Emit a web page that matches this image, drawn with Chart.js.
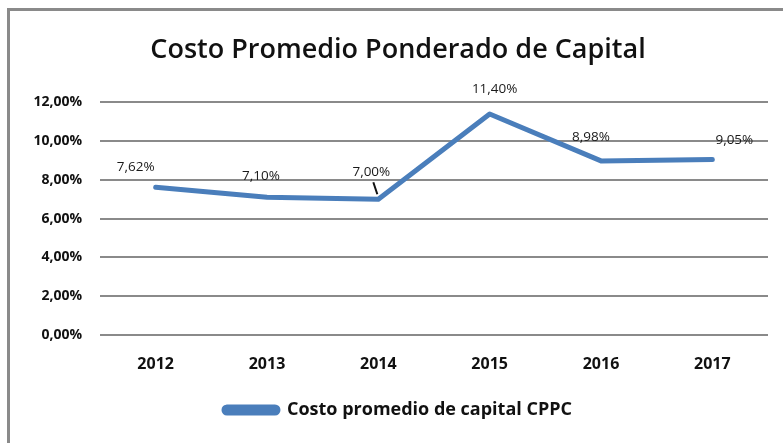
<!DOCTYPE html>
<html>
<head>
<meta charset="utf-8">
<script src="https://cdn.jsdelivr.net/npm/chart.js@4"></script>
<style>
  html, body { margin: 0; padding: 0; background: #fff; }
  #wrap { position: relative; width: 783px; height: 443px; overflow: hidden; }
  #frame { position: absolute; left: 7px; top: 8px; width: 800px; height: 460px;
           border-left: 3px solid #8a8a8a; border-top: 3px solid #8a8a8a; box-sizing: border-box; }
  canvas { position: absolute; left: 0; top: 0; }
</style>
</head>
<body>
<div id="wrap">
  <div id="frame"></div>
  <canvas id="chart" width="783" height="443"></canvas>
</div>
<script>
const YEARS = ["2012", "2013", "2014", "2015", "2016", "2017"];
const CPPC = [7.62, 7.10, 7.00, 11.40, 8.98, 9.05];
const SERIES_LABEL = "Costo promedio de capital CPPC";
const TITLE = "Costo Promedio Ponderado de Capital";

const FONT = "'Open Sans', 'Liberation Sans', sans-serif";
const BLUE = "#4a7ebb";
const GRID = "#8a8a8a";

function pct(v) {
  return Number(v).toFixed(2).replace(".", ",") + "%";
}

// where each label sits relative to its point (Excel placed them by hand)
const labelShift = [[-20, -20], [-6, -21], [-7, -27], [5, -25], [-10, -24], [22, -19]];

const dataLabels = {
  id: "dataLabels",
  afterDatasetsDraw(chart) {
    const ctx = chart.ctx;
    const meta = chart.getDatasetMeta(0);
    ctx.save();
    ctx.font = "13.5px " + FONT;
    ctx.fillStyle = "#1a1a1a";
    ctx.textAlign = "center";
    ctx.textBaseline = "middle";
    meta.data.forEach((pt, i) => {
      const s = labelShift[i] || [0, -20];
      ctx.fillText(pct(CPPC[i]), pt.x + s[0], pt.y + s[1]);
      if (i === 2) {
        // leader line from label down to the point
        ctx.strokeStyle = "#111";
        ctx.lineWidth = 2;
        ctx.beginPath();
        ctx.moveTo(pt.x - 5, pt.y - 17);
        ctx.lineTo(pt.x - 1, pt.y - 5);
        ctx.stroke();
      }
    });
    ctx.restore();
  }
};

new Chart(document.getElementById("chart"), {
  type: "line",
  data: {
    labels: YEARS,
    datasets: [{
      label: SERIES_LABEL,
      data: CPPC,
      borderColor: BLUE,
      backgroundColor: BLUE,
      borderWidth: 5,
      pointRadius: 0,
      tension: 0,
      borderCapStyle: "round",
      borderJoinStyle: "round",
    }]
  },
  options: {
    responsive: false,
    animation: false,
    devicePixelRatio: 1,
    layout: { padding: { left: 28, right: 15, top: 0, bottom: 14 } },
    scales: {
      x: {
        offset: true,
        grid: { display: false, drawTicks: false, offset: true },
        border: { display: false },
        ticks: { color: "#111", font: { family: FONT, size: 16, weight: "bold" }, padding: 20 },
      },
      y: {
        min: 0,
        max: 12,
        afterFit(scale) { scale.width = 72; },
        grid: { color: GRID, lineWidth: 2, drawTicks: false },
        border: { display: false },
        ticks: {
          stepSize: 2,
          padding: 18,
          color: "#111",
          font: { family: FONT, size: 14, weight: "bold" },
          callback: (v) => pct(v),
        },
      }
    },
    plugins: {
      title: {
        display: true,
        text: TITLE,
        color: "#111",
        font: { family: FONT, size: 27, weight: "600" },
        padding: { top: 34, bottom: 36 },
      },
      legend: {
        position: "bottom",
        labels: {
          color: "#111",
          font: { family: FONT, size: 18, weight: "bold" },
          boxWidth: 54,
          boxHeight: 6,
          useBorderRadius: true,
          borderRadius: 3,
          padding: 7,
        },
      },
      tooltip: { enabled: false },
    }
  },
  plugins: [dataLabels]
});
</script>
</body>
</html>
